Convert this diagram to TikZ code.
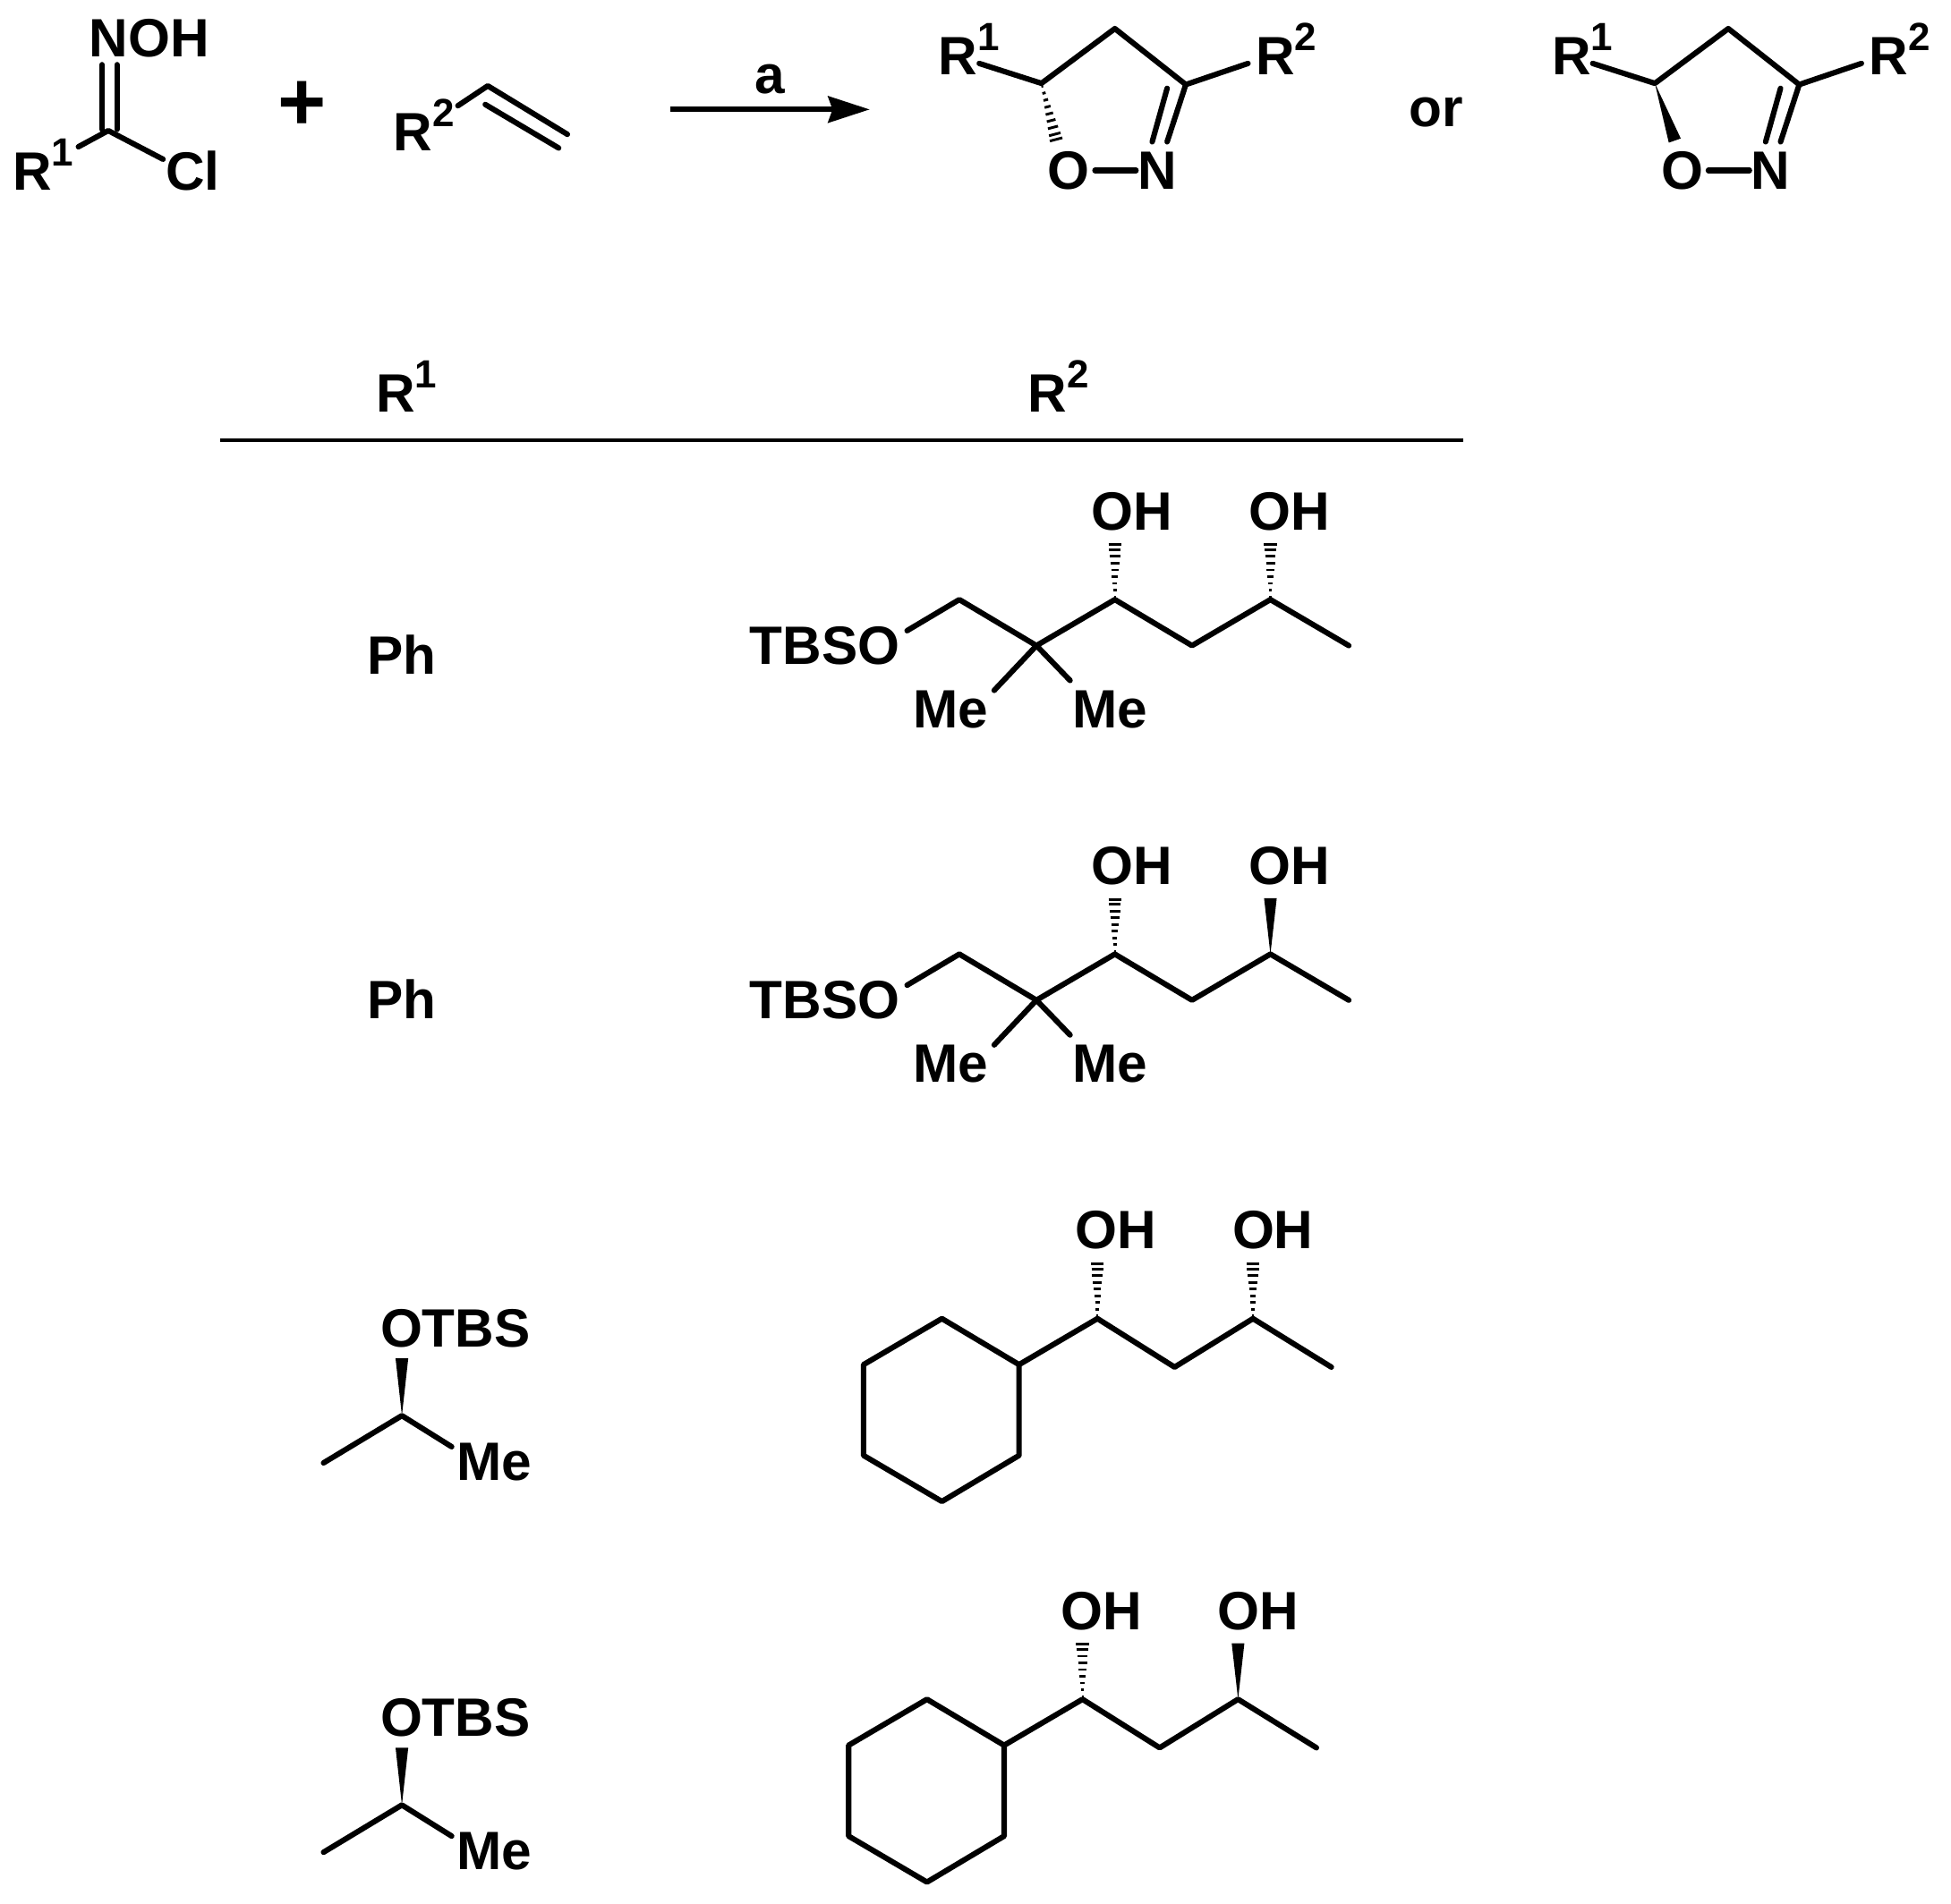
\documentclass[tikz,border=0pt]{standalone}
\usepackage{fontspec}
\setmainfont{Liberation Sans}
\usetikzlibrary{calc,arrows.meta}
\tikzset{
  >={Stealth[length=19pt,width=12pt,inset=2pt]},
  bond/.style = {line width=2.5pt,line cap=round,line join=round},
  rung/.style = {line width=1.2pt},
  atom/.style = {font=\fontsize{24.7}{24.7}\bfseries\selectfont,inner sep=0pt,anchor=base},
  group/.style = {atom,anchor=base west}
}
% R with a raised index
\newcommand{\rsub}[1]{R\raisebox{0.45em}{\fontsize{18}{18}\bfseries\selectfont #1}}
\newcommand{\hashbond}[2]{
  \foreach \pos in {0.05,0.17,0.29,0.41,0.53,0.65,0.77,0.89,0.98}{
    \pgfmathsetmacro{\halfw}{2.7*\pos+0.3}
    \coordinate (h) at ($(#1)!\pos!(#2)$);
    \draw[rung] ($(h)!\halfw pt!90:(#2)$) -- ($(h)!\halfw pt!-90:(#2)$);
  }
}
\newcommand{\wedgebond}[2]{
  \fill ($(#2)!2.9pt!90:(#1)$) -- ($(#2)!2.9pt!-90:(#1)$) -- (#1) -- cycle;
}
% dihydroisoxazole: name prefix, ring bond macro, end of that bond
\newcommand{\isoxring}[3]{
  \node[group] (#1r1) at (754,60) {\rsub{1}};
  \node[group] (#1r2) at (1009,60) {\rsub{2}};
  \node[atom] (#1o) at (859,152) {O};
  \node[atom] (#1n) at (930,152) {N};
  \coordinate (#1c5) at (837,67);
  \coordinate (#1c4) at (896,23);
  \coordinate (#1c3) at (953,68);
  \coordinate (#1a) at (787,51);
  \coordinate (#1b) at (1003,51);
  \coordinate (#1d) at (938,114);
  \coordinate (#1e) at (938,71);
  \coordinate (#1f) at (926,114);
  \coordinate (#1g) at (880,137);
  \coordinate (#1k) at (913,137);
  \coordinate (#1m) at (#3,113);
  \draw[bond] (#1a) -- (#1c5) -- (#1c4) -- (#1c3) -- (#1b);
  \draw[bond] (#1c3) -- (#1d);
  \draw[bond] (#1e) -- (#1f);
  \draw[bond] (#1g) -- (#1k);
  #2{#1c5}{#1m}
}
% TBSO side chain: name prefix, bond macro of the last OH
\newcommand{\tbschain}[2]{
  \node[atom] (#1tbso) at (663,534) {TBSO};
  \node[atom] (#1mea) at (764,585) {Me};
  \node[atom] (#1meb) at (892,585) {Me};
  \node[atom] (#1oha) at (910,426) {OH};
  \node[atom] (#1ohb) at (1036,426) {OH};
  \coordinate (#1s) at (729,507);
  \coordinate (#1c1) at (771,482);
  \coordinate (#1c2) at (833,519);
  \coordinate (#1c3) at (896,482);
  \coordinate (#1c4) at (958,519);
  \coordinate (#1c5) at (1021,482);
  \coordinate (#1c6) at (1084,519);
  \coordinate (#1ma) at (799,555);
  \coordinate (#1mb) at (860,547);
  \coordinate (#1ha) at (896,437);
  \coordinate (#1hb) at (1021,437);
  \draw[bond] (#1s) -- (#1c1) -- (#1c2) -- (#1c3) -- (#1c4) -- (#1c5) -- (#1c6);
  \draw[bond] (#1c2) -- (#1ma);
  \draw[bond] (#1c2) -- (#1mb);
  \hashbond{#1c3}{#1ha}
  #2{#1c5}{#1hb}
}
% cyclohexyl side chain: name prefix, bond macro of the last OH
\newcommand{\hexylchain}[2]{
  \node[atom] (#1oha) at (897,1004) {OH};
  \node[atom] (#1ohb) at (1023,1004) {OH};
  \coordinate (#1r1) at (757,1060);
  \coordinate (#1r2) at (819,1097);
  \coordinate (#1r3) at (819,1170);
  \coordinate (#1r4) at (757,1207);
  \coordinate (#1r5) at (694,1170);
  \coordinate (#1r6) at (694,1097);
  \coordinate (#1c1) at (882,1060);
  \coordinate (#1c2) at (944,1099);
  \coordinate (#1c3) at (1007,1060);
  \coordinate (#1c4) at (1070,1099);
  \coordinate (#1ha) at (882,1015);
  \coordinate (#1hb) at (1007,1015);
  \draw[bond] (#1r1) -- (#1r2) -- (#1r3) -- (#1r4) -- (#1r5) -- (#1r6) -- cycle;
  \draw[bond] (#1r2) -- (#1c1) -- (#1c2) -- (#1c3) -- (#1c4);
  \hashbond{#1c1}{#1ha}
  #2{#1c3}{#1hb}
}
% silyl ether substituent
\newcommand{\otbsgroup}[1]{
  \node[atom] (#1otbs) at (366,1083) {OTBS};
  \node[atom] (#1me) at (397,1190) {Me};
  \coordinate (#1c) at (323,1138);
  \coordinate (#1top) at (323,1092);
  \coordinate (#1lft) at (260,1176);
  \coordinate (#1rgt) at (363,1163);
  \draw[bond] (#1lft) -- (#1c) -- (#1rgt);
  \wedgebond{#1c}{#1top}
}
\begin{document}
\begin{tikzpicture}[x=0.02cm,y=-0.02cm]
  \useasboundingbox (0,0) rectangle (1568,1530);
  % chlorooxime
  \node[atom] (noh) at (120,46) {NOH};
  \node[atom] (cl) at (155,153) {Cl};
  \node[group] (ra) at (10,153) {\rsub{1}};
  \coordinate (cx) at (87,105);
  \coordinate (na) at (82,52);
  \coordinate (nb) at (94,52);
  \coordinate (ca) at (82,104);
  \coordinate (cb) at (94,104);
  \coordinate (ea) at (63,118);
  \coordinate (eb) at (131,128);
  \draw[bond] (na) -- (ca);
  \draw[bond] (nb) -- (cb);
  \draw[bond] (ea) -- (cx) -- (eb);
  \node[atom,font=\fontsize{38}{38}\bfseries\selectfont] (plus) at (243,105) {+};
  % alkene
  \node[group] (rb) at (316,121) {\rsub{2}};
  \coordinate (va) at (368,85);
  \coordinate (vb) at (392,69);
  \coordinate (vc) at (456,108);
  \coordinate (vd) at (390,84);
  \coordinate (ve) at (449,119);
  \draw[bond] (va) -- (vb) -- (vc);
  \draw[bond] (vd) -- (ve);
  % reaction arrow
  \node[atom] (cond) at (619,75) {a};
  \coordinate (from) at (539,88);
  \coordinate (to) at (699,88);
  \draw[bond,line cap=butt,->] (from) -- (to);
  \isoxring{p}{\hashbond}{849}
  \node[atom] (or) at (1154,102) {or};
  \begin{scope}[shift={(493,0)}]
    \isoxring{q}{\wedgebond}{853}
  \end{scope}
  % table head
  \node[group] (heada) at (302,331) {\rsub{1}};
  \node[group] (headb) at (826,331) {\rsub{2}};
  \coordinate (rulea) at (177,354);
  \coordinate (ruleb) at (1176,354);
  \draw[line width=1.8pt] (rulea) -- (ruleb);
  % rows
  \node[atom] (pha) at (323,542) {Ph};
  \tbschain{a}{\hashbond}
  \node[atom] (phb) at (323,819) {Ph};
  \begin{scope}[shift={(0,285)}]
    \tbschain{b}{\wedgebond}
  \end{scope}
  \otbsgroup{c}
  \hexylchain{c}{\hashbond}
  \begin{scope}[shift={(0,313)}]
    \otbsgroup{d}
  \end{scope}
  \begin{scope}[shift={(-12,306)}]
    \hexylchain{d}{\wedgebond}
  \end{scope}
\end{tikzpicture}
\end{document}
